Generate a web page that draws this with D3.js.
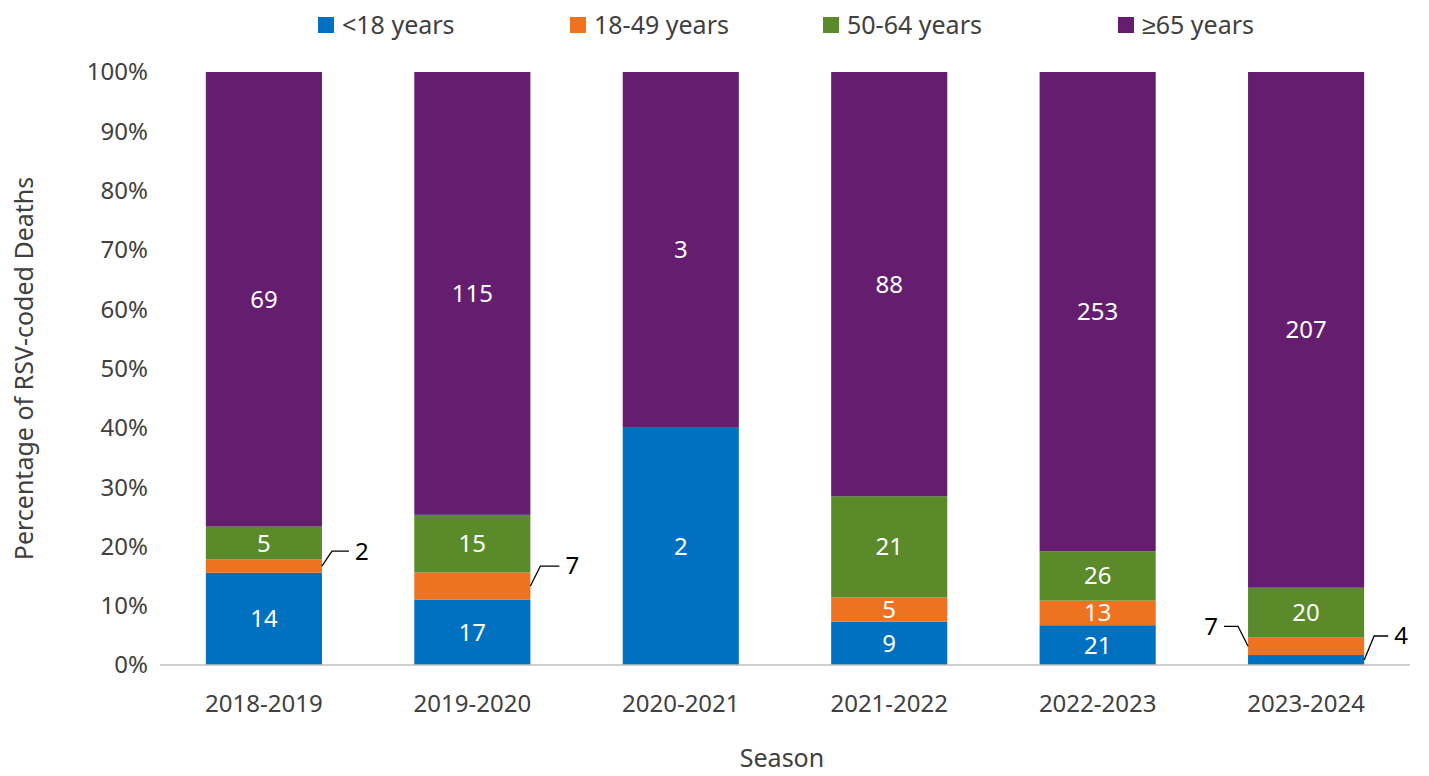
<!DOCTYPE html>
<html><head><meta charset="utf-8">
<script src="https://cdn.jsdelivr.net/npm/d3@7"></script>
<style>body{margin:0;background:#fff;overflow:hidden}text{font-family:"Noto Sans",sans-serif}</style>
</head><body><div id="chart"></div>
<script>
const seasons = ["2018-2019","2019-2020","2020-2021","2021-2022","2022-2023","2023-2024"]
const groups = ["<18 years","18-49 years","50-64 years","≥65 years"]
const under18 = [14,17,2,9,21,4]
const age18to49 = [2,7,0,5,13,7]
const age50to64 = [5,15,0,21,26,20]
const age65plus = [69,115,3,88,253,207]
const yTicks = [0,10,20,30,40,50,60,70,80,90,100]
const colors = ["#0070C0","#EE7220","#5A8A2A","#651D70"]

const W = 1429, H = 776
const M = {TOP: 72, BOTTOM: 111, LEFT: 160, RIGHT: 19}
const svg = d3.select("#chart").append("svg").attr("width", W).attr("height", H).style("display", "block")
const g = svg.append("g").attr("transform", `translate(${M.LEFT},${M.TOP})`)
const iw = W - M.LEFT - M.RIGHT, ih = H - M.TOP - M.BOTTOM

const data = seasons.map((s, i) => {
  const vals = [under18[i], age18to49[i], age50to64[i], age65plus[i]]
  const total = d3.sum(vals)
  let acc = 0
  return {season: s, segs: vals.map((v, k) => {
    const y0 = acc; acc += v / total * 100
    return {k, v, y0, y1: acc}
  })}
})

const x = d3.scaleBand().domain(seasons).range([0, iw]).paddingInner(0.443).paddingOuter(0.22)
const y = d3.scaleLinear().domain([0, 100]).range([ih, 0])

g.selectAll(".tick-l").data(yTicks).enter().append("text")
  .attr("x", -12).attr("y", d => y(d)).attr("dy", "0.35em")
  .attr("text-anchor", "end").attr("font-size", 24).attr("fill", "#404040")
  .text(d => d + "%")

const bars = g.selectAll(".bar").data(data).enter().append("g")
  .attr("transform", d => `translate(${x(d.season)},0)`)
bars.selectAll("rect").data(d => d.segs.filter(s => s.v > 0)).enter().append("rect")
  .attr("x", 0).attr("width", x.bandwidth())
  .attr("y", d => y(d.y1)).attr("height", d => y(d.y0) - y(d.y1))
  .attr("fill", d => colors[d.k])

// small segments get leader labels instead
const outside = {"2018-2019":[1], "2019-2020":[1], "2023-2024":[0,1]}
bars.each(function(d) {
  const skip = outside[d.season] || []
  d3.select(this).selectAll("text.v").data(d.segs.filter(s => s.v > 0 && !skip.includes(s.k)))
    .enter().append("text")
    .attr("x", x.bandwidth() / 2)
    .attr("y", s => s.k === 3 ? y((s.y0 + 100) / 2) : y((s.y0 + s.y1) / 2))
    .attr("dy", "0.35em").attr("text-anchor", "middle")
    .attr("font-size", 24).attr("fill", "#fff").text(s => s.v)
})

function leader(season, k, side, dx, dy) {
  const d = data.find(e => e.season === season), s = d.segs[k]
  const ym = y((s.y0 + s.y1) / 2)
  const bx = side > 0 ? x(season) + x.bandwidth() : x(season)
  const p = [[bx, ym], [bx + side * 10, ym - dy], [bx + side * dx, ym - dy]]
  g.append("path").attr("d", d3.line()(p)).attr("fill", "none").attr("stroke", "#000").attr("stroke-width", 1.3)
  g.append("text").attr("x", bx + side * (dx + 6)).attr("y", ym - dy).attr("dy", "0.35em")
    .attr("text-anchor", side > 0 ? "start" : "end").attr("font-size", 24).attr("fill", "#000").text(s.v)
}
leader("2018-2019", 1, 1, 27, 15)
leader("2019-2020", 1, 1, 29, 20)
leader("2023-2024", 1, -1, 24, 20)
leader("2023-2024", 0, 1, 24, 24)

g.append("line").attr("x1", 0).attr("x2", iw).attr("y1", ih).attr("y2", ih).attr("stroke", "#bfbfbf").attr("stroke-width", 1.5)
g.append("g").attr("transform", `translate(0,${ih})`)
  .call(d3.axisBottom(x).tickSize(0).tickPadding(30))
  .call(a => a.select(".domain").remove())
  .selectAll("text").attr("font-size", 24).attr("fill", "#404040").attr("font-family", "Noto Sans")

svg.append("text").attr("x", M.LEFT + iw / 2 - 3).attr("y", 758).attr("dy", "0.35em").attr("text-anchor", "middle")
  .attr("font-size", 25).attr("fill", "#404040").text("Season")
svg.append("text").attr("transform", `translate(33,${M.TOP + ih / 2}) rotate(-90)`)
  .attr("text-anchor", "middle").attr("font-size", 25).attr("fill", "#404040").text("Percentage of RSV-coded Deaths")

const legX = [318, 570, 823, 1118]
const leg = svg.selectAll(".leg").data(groups).enter().append("g")
  .attr("transform", (d, i) => `translate(${legX[i]},25)`)
leg.append("rect").attr("x", 0).attr("y", -8).attr("width", 16).attr("height", 16).attr("fill", (d, i) => colors[i])
leg.append("text").attr("x", 24).attr("dy", "0.35em").attr("font-size", 25).attr("fill", "#404040").text(d => d)
</script></body></html>
